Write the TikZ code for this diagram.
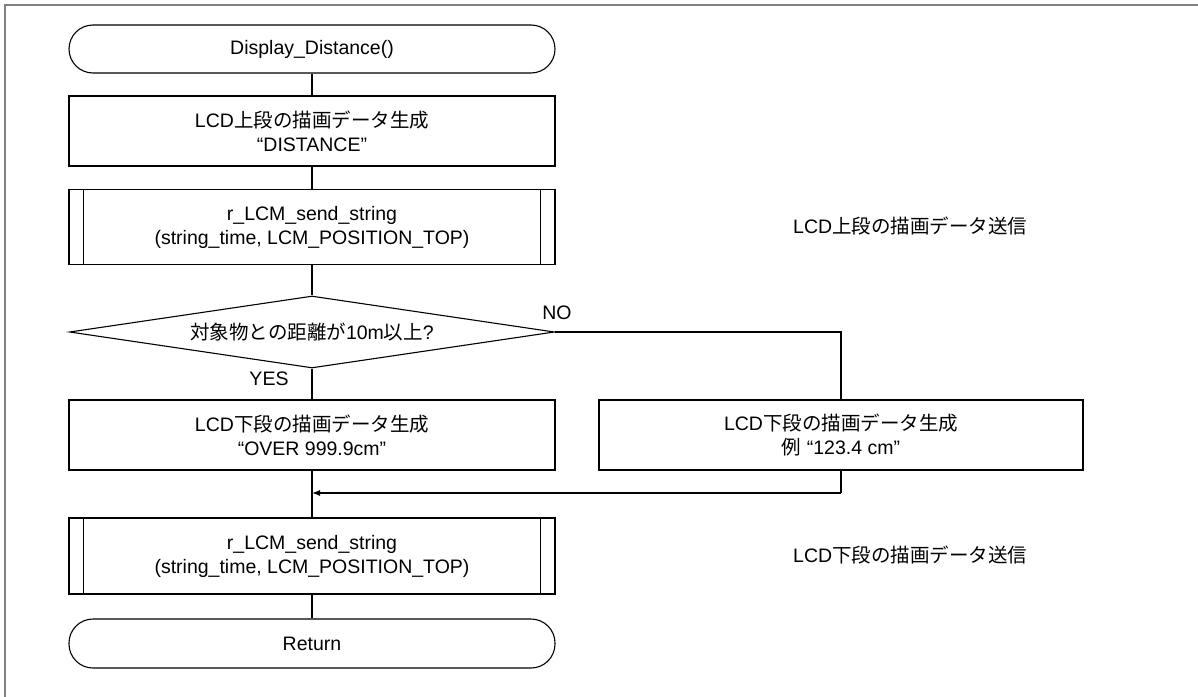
\documentclass[tikz,border=0pt]{standalone}
\usepackage{fontspec}
\setmainfont{Liberation Sans}
\newfontfamily\jp{Noto Sans CJK JP}
\usetikzlibrary{shapes.geometric,arrows.meta}
\begin{document}
\begin{tikzpicture}[x=1pt,y=-1pt,
  every node/.style={font=\fontsize{19.5}{24}\selectfont, align=center, inner sep=0pt},
  term/.style={draw, line width=1.1pt, rounded corners=24pt, minimum width=486pt, minimum height=48pt},
  procbox/.style={draw, line width=1.1pt, minimum width=486pt, minimum height=70pt},
  subbox/.style={draw, line width=1.1pt, minimum width=486pt, minimum height=75pt},
  decis/.style={draw, line width=1.1pt, diamond, aspect=6.7, minimum width=485pt, minimum height=72pt},
  conn/.style={line width=1.1pt},
  lbl/.style={anchor=west}
]
\useasboundingbox (0,0) rectangle (1198,696);
\draw[line width=2.2pt, color=black!50] (5,700) -- (5,5) -- (1202,5);

\node[term] (start) at (312,49) {Display\_Distance()};
\node[procbox] (b1) at (312,131) {LCD{\jp 上段の描画データ生成}\\“DISTANCE”};
\node[subbox] (s1) at (312,227) {r\_LCM\_send\_string\\(string\_time, LCM\_POSITION\_TOP)};
\draw[conn] ([xshift=15pt]s1.north west) -- ([xshift=15pt]s1.south west);
\draw[conn] ([xshift=-15pt]s1.north east) -- ([xshift=-15pt]s1.south east);
\node[decis] (d) at (312,332) {{\jp 対象物との距離が}10m{\jp 以上}?};
\node[procbox] (b3) at (312,435) {LCD{\jp 下段の描画データ生成}\\“OVER 999.9cm”};
\node[procbox, minimum width=484pt] (b2) at (841,435) {LCD{\jp 下段の描画データ生成}\\{\jp 例} “123.4 cm”};
\node[subbox, minimum height=76pt] (s2) at (312,556) {r\_LCM\_send\_string\\(string\_time, LCM\_POSITION\_TOP)};
\draw[conn] ([xshift=15pt]s2.north west) -- ([xshift=15pt]s2.south west);
\draw[conn] ([xshift=-15pt]s2.north east) -- ([xshift=-15pt]s2.south east);
\node[term, minimum height=49pt] (ret) at (312,643.5) {Return};

\node[lbl] (l1) at (793,226) {LCD{\jp 上段の描画データ送信}};
\node[lbl] (l2) at (793,555) {LCD{\jp 下段の描画データ送信}};
\node (no) at (557,313) {NO};
\node (yes) at (269,379) {YES};

\coordinate (nc) at (841,332);
\coordinate (mc) at (841,493);
\coordinate (mj) at (312,493);

\draw[conn] (start) -- (b1);
\draw[conn] (b1) -- (s1);
\draw[conn] (s1) -- (d);
\draw[conn] (d) -- (b3);
\draw[conn] (d.east) -- (nc) -- (b2.north);
\draw[conn] (b2.south) -- (mc);
\draw[conn, -{Latex[length=8pt,width=6pt]}] (mc) -- (mj);
\draw[conn] (b3) -- (s2);
\draw[conn] (s2) -- (ret);
\end{tikzpicture}
\end{document}
